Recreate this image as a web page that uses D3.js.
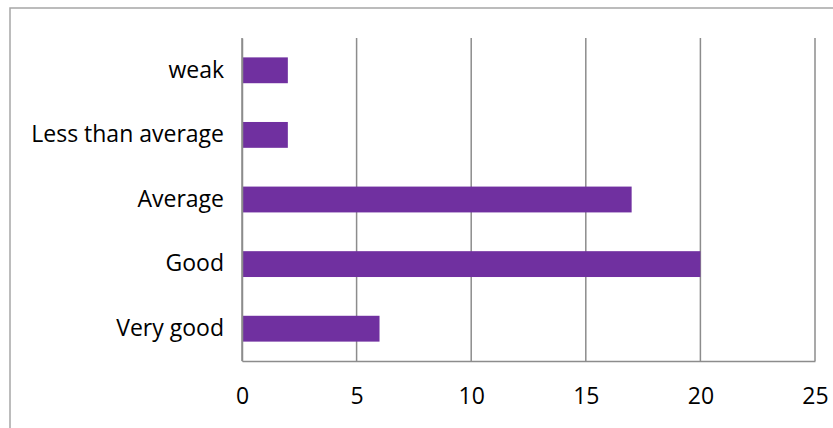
<!DOCTYPE html>
<html>
<head>
<meta charset="utf-8">
<script src="https://cdn.jsdelivr.net/npm/d3@7"></script>
<style>
  html, body { margin: 0; padding: 0; background: #fff; }
  svg { display: block; }
</style>
</head>
<body>
<svg id="chart" width="833" height="428"></svg>
<script>
const categories = ["weak", "Less than average", "Average", "Good", "Very good"];
const values = [2, 2, 17, 20, 6];
const xTicks = [0, 5, 10, 15, 20, 25];

const svg = d3.select("#chart");
const W = 833, H = 428;
const margin = { left: 242, right: 18, top: 38, bottom: 67 };
const font = "'Open Sans', sans-serif";

// Outer chart-area frame
svg.append("rect")
  .attr("x", 10).attr("y", 8)
  .attr("width", W + 20).attr("height", H + 20)
  .attr("fill", "#fff")
  .attr("stroke", "#a6a6a6").attr("stroke-width", 1.5);

const x = d3.scaleLinear().domain([0, 25]).range([margin.left, W - margin.right]);
const y = d3.scaleBand().domain(categories)
  .range([margin.top, H - margin.bottom])
  .paddingInner(0.6).paddingOuter(0.3);

// Vertical gridlines
svg.append("g")
  .selectAll("line")
  .data(xTicks)
  .join("line")
  .attr("x1", d => x(d)).attr("x2", d => x(d))
  .attr("y1", margin.top).attr("y2", H - margin.bottom)
  .attr("stroke", "#8c8c8c").attr("stroke-width", 1.5);

// Bars
svg.append("g")
  .selectAll("rect")
  .data(categories.map((c, i) => ({ c, v: values[i] })))
  .join("rect")
  .attr("x", x(0))
  .attr("y", d => y(d.c))
  .attr("width", d => x(d.v) - x(0))
  .attr("height", y.bandwidth())
  .attr("fill", "#7030a0");

// Category axis
const yAxis = svg.append("g")
  .attr("transform", `translate(${x(0)},0)`)
  .call(d3.axisLeft(y).tickSize(0).tickPadding(18));
yAxis.select(".domain").attr("stroke", "#8c8c8c").attr("stroke-width", 1.5);
yAxis.selectAll("text")
  .attr("font-family", font).attr("font-size", 23).attr("fill", "#000");

// Value axis
const xAxis = svg.append("g")
  .attr("transform", `translate(0,${H - margin.bottom})`)
  .call(d3.axisBottom(x).tickValues(xTicks).tickSize(0).tickPadding(27));
xAxis.select(".domain").attr("stroke", "#8c8c8c").attr("stroke-width", 1.5);
xAxis.selectAll("text")
  .attr("font-family", font).attr("font-size", 23).attr("fill", "#000");
</script>
</body>
</html>
